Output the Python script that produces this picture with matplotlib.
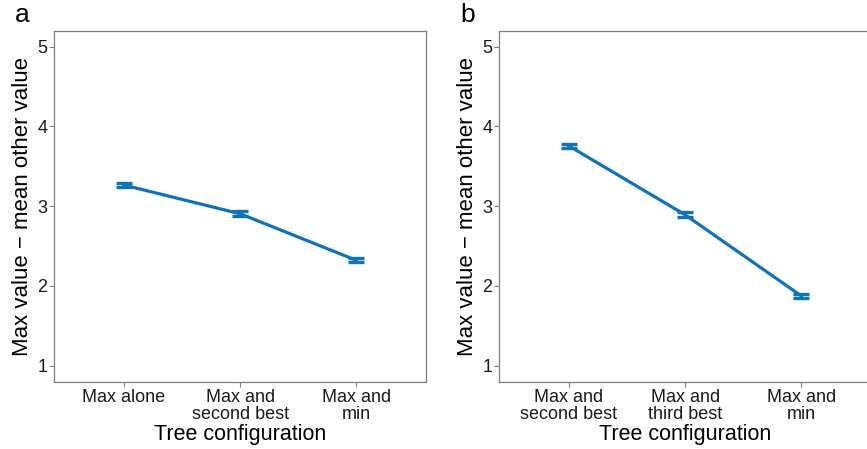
import matplotlib.pyplot as plt

plt.rcParams["font.family"] = ["Liberation Sans", "DejaVu Sans"]

labels_a = ["Max alone", "Max and\nsecond best", "Max and\nmin"]
means_a = [3.265, 2.905, 2.322]
errs_a = [0.03, 0.03, 0.025]

labels_b = ["Max and\nsecond best", "Max and\nthird best", "Max and\nmin"]
means_b = [3.755, 2.892, 1.875]
errs_b = [0.025, 0.03, 0.025]

yticks = [1, 2, 3, 4, 5]
line_col = "#0f73b6"
spine_col = "#7f7f7f"


def draw_panel(ax, labels, means, errs, letter):
    x = list(range(1, len(labels) + 1))
    ax.errorbar(x, means, yerr=errs, color=line_col, linewidth=2.3,
                elinewidth=2.2, capsize=6, capthick=2.4)
    ax.set_xlim(0.4, 3.6)
    ax.set_ylim(0.8, 5.2)
    ax.set_xticks(x)
    ax.set_xticklabels(labels, multialignment="center", linespacing=1.0)
    ax.set_yticks(yticks)
    ax.tick_params(axis="both", direction="out", length=3.5, width=0.8,
                   color=spine_col, labelsize=13, labelcolor="#1a1a1a", pad=1.5)
    for s in ax.spines.values():
        s.set_color(spine_col)
        s.set_linewidth(0.9)
    ax.set_xlabel("Tree configuration", fontsize=15.5, labelpad=1)
    ax.set_ylabel("Max value \u2212 mean other value", fontsize=16, labelpad=3)
    ax.text(-0.105, 1.01, letter, transform=ax.transAxes, fontsize=19,
            ha="left", va="bottom")


fig = plt.figure(figsize=(8.67, 4.49), dpi=100)
ax_a = fig.add_axes([0.0626, 0.1499, 0.4287, 0.7817])
ax_b = fig.add_axes([0.5759, 0.1499, 0.4287, 0.7817])

draw_panel(ax_a, labels_a, means_a, errs_a, "a")
draw_panel(ax_b, labels_b, means_b, errs_b, "b")

fig.savefig("out.png", dpi=100)
